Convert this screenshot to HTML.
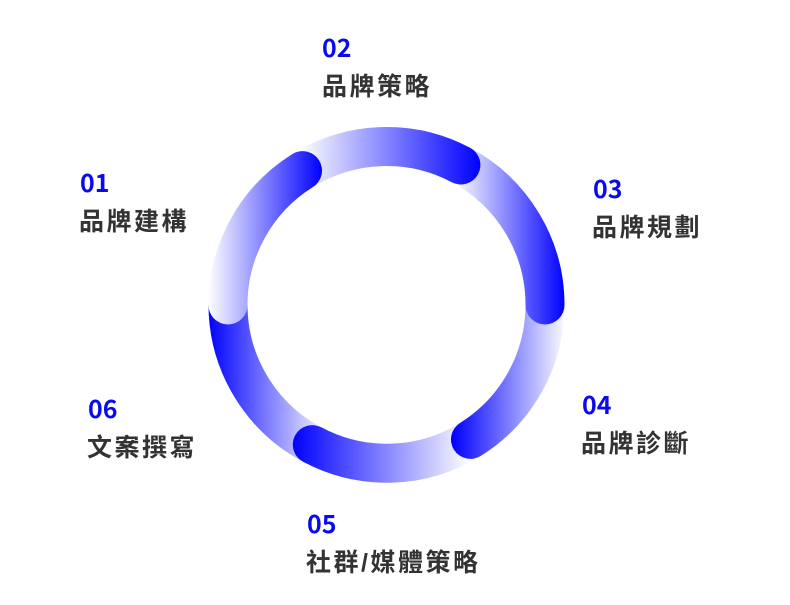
<!DOCTYPE html>
<html><head><meta charset="utf-8"><style>
html,body{margin:0;padding:0;background:#fff;width:790px;height:605px;overflow:hidden}
svg{display:block}
.n{font-family:"Noto Sans CJK TC","Liberation Sans",sans-serif;font-weight:bold;font-size:25px;fill:#0a0af0}
.t{font-family:"Liberation Sans","Noto Sans CJK TC",sans-serif;font-weight:bold;font-size:25px;fill:#333;letter-spacing:2.5px}
</style></head><body>
<svg width="790" height="605" viewBox="0 0 790 605">
<defs>
<linearGradient id="g1" gradientUnits="userSpaceOnUse" x1="208" y1="0" x2="322" y2="0"><stop offset="0" stop-color="#fff"/><stop offset="1" stop-color="#0000ff"/></linearGradient>
<linearGradient id="g2" gradientUnits="userSpaceOnUse" x1="300" y1="0" x2="480" y2="0"><stop offset="0" stop-color="#fff"/><stop offset="1" stop-color="#0000ff"/></linearGradient>
<linearGradient id="g3" gradientUnits="userSpaceOnUse" x1="455" y1="0" x2="565" y2="0"><stop offset="0" stop-color="#fff"/><stop offset="1" stop-color="#0000ff"/></linearGradient>
<linearGradient id="g4" gradientUnits="userSpaceOnUse" x1="567" y1="0" x2="452" y2="0"><stop offset="0" stop-color="#fff"/><stop offset="1" stop-color="#0000ff"/></linearGradient>
<linearGradient id="g5" gradientUnits="userSpaceOnUse" x1="470" y1="0" x2="292" y2="0"><stop offset="0" stop-color="#fff"/><stop offset="1" stop-color="#0000ff"/></linearGradient>
<linearGradient id="g6" gradientUnits="userSpaceOnUse" x1="208" y1="0" x2="330" y2="0"><stop offset="0" stop-color="#0000ff"/><stop offset="1" stop-color="#fff"/></linearGradient>
</defs>
<g fill="none" stroke-width="39" stroke-linecap="round">
<path d="M312.3 444.6 A158.5 158.5 0 0 1 228 305" stroke="url(#g6)"/>
<path d="M470.5 439.4 A158.5 158.5 0 0 1 312.3 444.6" stroke="url(#g5)"/>
<path d="M545 305 A158.5 158.5 0 0 1 470.5 439.4" stroke="url(#g4)"/>
<path d="M460.9 165 A158.5 158.5 0 0 1 545 305" stroke="url(#g3)"/>
<path d="M302.5 170.6 A158.5 158.5 0 0 1 460.9 165" stroke="url(#g2)"/>
<path d="M228 305 A158.5 158.5 0 0 1 302.5 170.6" stroke="url(#g1)"/>
</g>
<text class="n" x="322" y="57">02</text><text class="t" x="322" y="95">品牌策略</text>
<text class="n" x="80" y="192">01</text><text class="t" x="79" y="230">品牌建構</text>
<text class="n" x="593" y="198">03</text><text class="t" x="592" y="236">品牌規劃</text>
<text class="n" x="582" y="414">04</text><text class="t" x="581" y="452">品牌診斷</text>
<text class="n" x="88" y="418">06</text><text class="t" x="87" y="456">文案撰寫</text>
<text class="n" x="307" y="533">05</text><text class="t" x="306" y="571">社群/媒體策略</text>
</svg>
</body></html>
